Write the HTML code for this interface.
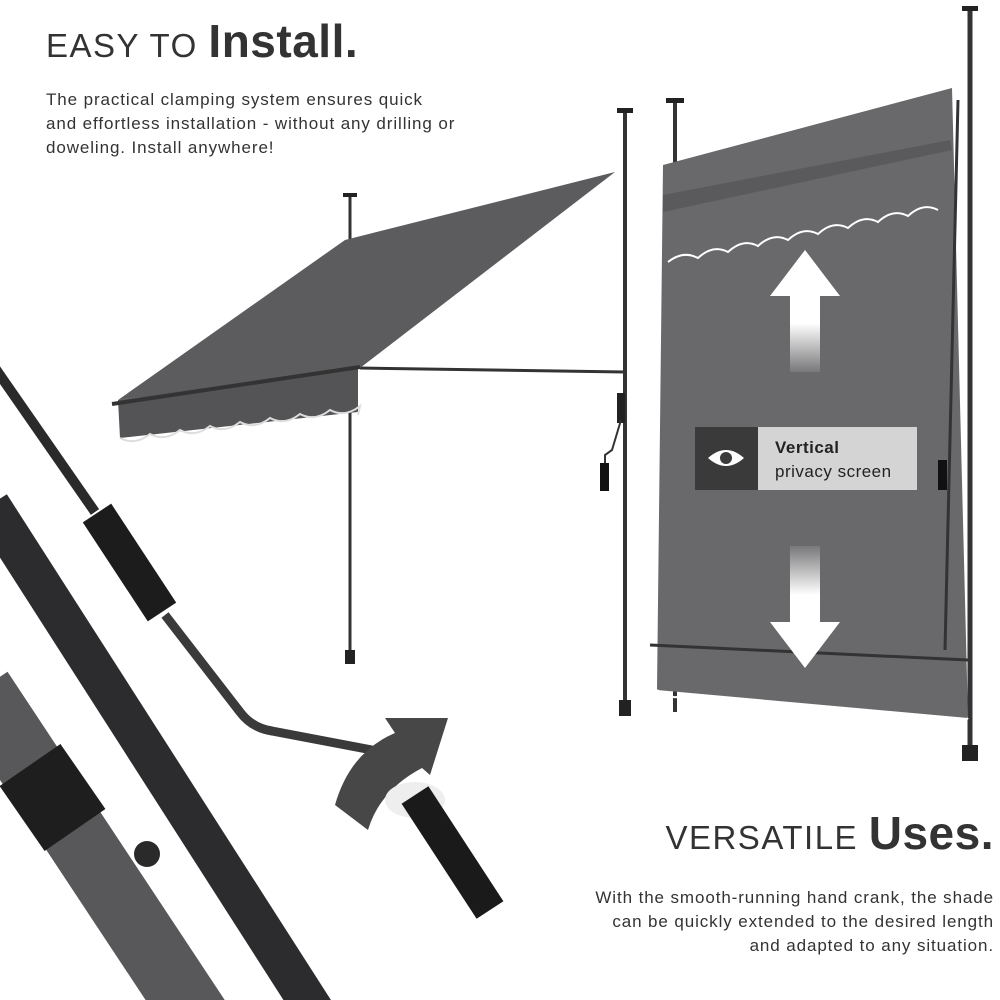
<!DOCTYPE html>
<html><head><meta charset="utf-8"><style>
body{margin:0;width:1000px;height:1000px;background:#fff;overflow:hidden;position:relative;font-family:"Liberation Sans",sans-serif;color:#3a3a3a}
.t{position:absolute;white-space:nowrap}
</style></head><body>
<svg width="1000" height="1000" style="position:absolute;left:0;top:0">
<defs>
<linearGradient id="up" x1="0" y1="0" x2="0" y2="1"><stop offset="0" stop-color="#fff"/><stop offset="0.6" stop-color="#fff"/><stop offset="1" stop-color="#fff" stop-opacity="0.1"/></linearGradient>
<linearGradient id="dn" x1="0" y1="1" x2="0" y2="0"><stop offset="0" stop-color="#fff"/><stop offset="0.6" stop-color="#fff"/><stop offset="1" stop-color="#fff" stop-opacity="0.1"/></linearGradient>
</defs>
<line x1="350" y1="197" x2="350" y2="662" stroke="#333" stroke-width="3"/>
<rect x="343" y="193" width="14" height="4" fill="#222"/>
<rect x="345" y="650" width="10" height="14" fill="#222"/>
<line x1="625" y1="112" x2="625" y2="715" stroke="#333" stroke-width="4"/>
<rect x="617" y="108" width="16" height="5" fill="#222"/>
<rect x="619" y="700" width="12" height="16" fill="#222"/>
<rect x="617" y="393" width="8" height="30" fill="#222"/>
<path d="M621 420 L612 450 L605 455 L605 470" stroke="#333" stroke-width="2" fill="none"/>
<rect x="600" y="463" width="9" height="28" fill="#111"/>
<line x1="360" y1="368" x2="625" y2="372" stroke="#333" stroke-width="3"/>
<polygon points="345,240 615,172 360,368 118,400" fill="#5c5c5e"/>
<polygon points="118,400 358,366 358,412 120,438" fill="#545456"/>
<path d="M120,438 q15,8 30,-4 q15,8 30,-4 q15,8 30,-4 q15,8 30,-4 q15,8 30,-4 q15,8 30,-4 q15,8 30,-4 q15,8 30,-4 L358,415" stroke="#ddd" stroke-width="2" fill="none"/>
<line x1="112" y1="404" x2="360" y2="367" stroke="#333" stroke-width="4"/>
<line x1="675" y1="102" x2="675" y2="712" stroke="#333" stroke-width="4"/>
<rect x="666" y="98" width="18" height="5" fill="#222"/>
<line x1="970" y1="10" x2="970" y2="760" stroke="#333" stroke-width="5"/>
<rect x="962" y="6" width="16" height="5" fill="#222"/>
<rect x="962" y="745" width="16" height="16" fill="#222"/>
<polygon points="663,165 952,88 968,718 657,690" fill="#69696b"/>
<polygon points="663,195 950,140 952,150 663,212" fill="#5a5a5c"/>
<path d="M668,262 q15,-12 30,-4 q15,-14 30,-6 q15,-14 30,-6 q15,-14 30,-6 q15,-14 30,-6 q15,-14 30,-6 q15,-14 30,-6 q15,-14 30,-6 q15,-14 30,-6" stroke="#fff" stroke-width="2" fill="none"/>
<path d="M657,690 q15,12 30,4 q15,12 30,4 q15,12 30,4 q15,12 30,4 q15,12 30,4 q15,12 30,4 q15,12 30,4 q15,12 30,4 q15,12 30,4 q15,12 30,4 L968,718" stroke="#fff" stroke-width="2" fill="none"/>
<line x1="650" y1="645" x2="968" y2="660" stroke="#333" stroke-width="3"/>
<line x1="958" y1="100" x2="945" y2="650" stroke="#333" stroke-width="3"/>
<rect x="938" y="460" width="9" height="30" fill="#111"/>
<polygon points="805,250 840,296 820,296 820,372 790,372 790,296 770,296" fill="url(#up)"/>
<polygon points="805,668 840,622 820,622 820,546 790,546 790,622 770,622" fill="url(#dn)"/>
<rect x="695" y="427" width="63" height="63" fill="#3a3a3a"/>
<rect x="758" y="427" width="159" height="63" fill="#d4d4d4"/>
<path d="M708,458 q18,-16 36,0 q-18,16 -36,0z" fill="#fff"/>
<circle cx="726" cy="458" r="6" fill="#3a3a3a"/>
<!-- closeup -->
<line x1="-5" y1="368" x2="95" y2="512" stroke="#2a2a2a" stroke-width="10"/>
<line x1="-10" y1="505" x2="320" y2="1020" stroke="#2c2c2e" stroke-width="40"/>
<line x1="-20" y1="690" x2="205" y2="1030" stroke="#58585a" stroke-width="66"/>
<line x1="30" y1="765" x2="75" y2="830" stroke="#1e1e1e" stroke-width="74"/>
<circle cx="147" cy="854" r="13" fill="#2a2a2a"/>
<path d="M165,615 L240,712 Q252,728 272,731 L372,750" stroke="#3a3a3a" stroke-width="9" fill="none"/>
<line x1="97" y1="513" x2="162" y2="612" stroke="#1c1c1c" stroke-width="34"/>
<path d="M335,805 Q350,752 395,733 L385,718 L448,718 L430,775 L422,768 Q380,790 368,830 Z" fill="#474747"/>
<ellipse cx="415" cy="800" rx="30" ry="18" fill="#eee"/>
<line x1="415" y1="795" x2="490" y2="910" stroke="#1a1a1a" stroke-width="32"/>
</svg>
<div class="t" style="left:46px;top:14px;font-size:33px;letter-spacing:1.5px;color:#333">EASY TO <b style="font-size:46px;letter-spacing:0.5px">Install.</b></div>
<div class="t" style="left:46px;top:88px;font-size:17px;letter-spacing:0.9px;line-height:24px;color:#333">The practical clamping system ensures quick<br>and effortless installation - without any drilling or<br>doweling. Install anywhere!</div>
<div class="t" style="left:775px;top:436px;font-size:17px;letter-spacing:0.5px;color:#222;line-height:24px"><b>Vertical</b><br>privacy screen</div>
<div class="t" style="right:6px;top:806px;font-size:33px;letter-spacing:1.5px;color:#333">VERSATILE <b style="font-size:46px;letter-spacing:0.5px">Uses.</b></div>
<div class="t" style="right:6px;top:886px;font-size:17px;letter-spacing:0.9px;line-height:24px;text-align:right;color:#333">With the smooth-running hand crank, the shade<br>can be quickly extended to the desired length<br>and adapted to any situation.</div>
</body></html>
